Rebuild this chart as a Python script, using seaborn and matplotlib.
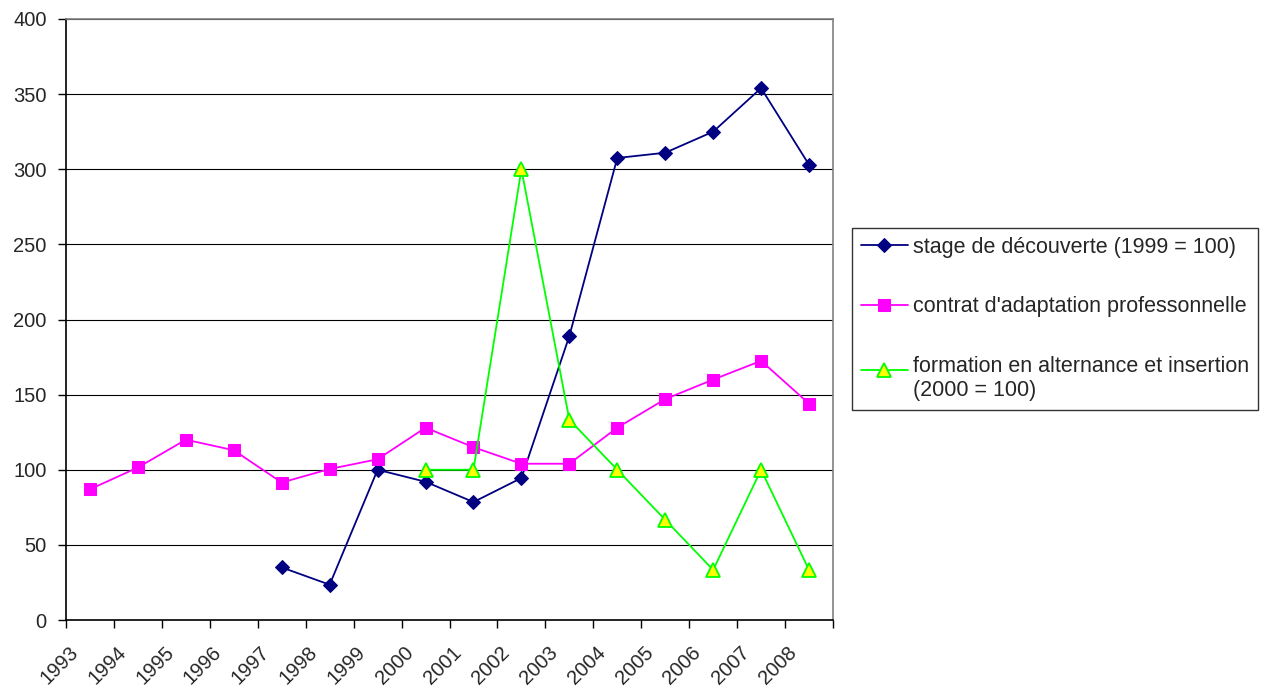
import matplotlib
matplotlib.use("Agg")
import matplotlib.pyplot as plt
import matplotlib.transforms as mtransforms
from matplotlib.legend_handler import HandlerLine2D
import seaborn as sns
import numpy as np
import pandas as pd

years = [str(y) for y in range(1993, 2009)]
stage = [np.nan, np.nan, np.nan, np.nan, 35, 23.5, 100, 92, 78.5, 94.5, 189, 307.5, 311, 325, 354, 303]
contrat = [87, 101.5, 120, 113, 91.5, 100.5, 107, 128, 115, 104, 104, 128, 147, 160, 172.5, 144]
formation = [np.nan, np.nan, np.nan, np.nan, np.nan, np.nan, np.nan, 100, 100, 300, 133.3, 100, 66.7, 33.3, 100, 33.3]

labels = ["stage de découverte (1999 = 100)",
          "contrat d'adaptation professonnelle",
          "formation en alternance et insertion\n(2000 = 100)"]

sns.set_style("white")
plt.rcParams['font.family'] = ['Liberation Sans', 'DejaVu Sans']

FS = 14.5
LFS = 15.5


class ShiftedHandler(HandlerLine2D):
    def __init__(self, dy, **kw):
        super().__init__(**kw)
        self.dy = dy

    def create_artists(self, legend, orig_handle, xdescent, ydescent, width, height, fontsize, trans):
        return super().create_artists(legend, orig_handle, xdescent, ydescent - self.dy,
                                      width, height, fontsize, trans)


fig = plt.figure(figsize=(12.73, 6.91), dpi=100)
ax = fig.add_axes([66/1273, 1-620/691, (833-66)/1273, (620-19)/691])

x = np.arange(len(years))
df = pd.DataFrame({"x": x, "stage": stage, "contrat": contrat, "formation": formation})

sns.lineplot(data=df, x="x", y="stage", ax=ax, color="#000080", marker="D",
             markersize=7.5, markeredgecolor="#000080", lw=1.3, label=labels[0])
sns.lineplot(data=df, x="x", y="contrat", ax=ax, color="#FF00FF", marker="s",
             markersize=8, markeredgecolor="#FF00FF", lw=1.3, label=labels[1])
sns.lineplot(data=df, x="x", y="formation", ax=ax, color="#00FF00", marker="^",
             markersize=9.5, markerfacecolor="#FFFF00", markeredgecolor="#00FF00",
             markeredgewidth=1.3, lw=1.3, label=labels[2])

ax.set_xlim(-0.5, len(years) - 0.5)
ax.set_ylim(0, 400)
ax.set_yticks(range(0, 401, 50))
ax.set_xlabel("")
ax.set_ylabel("")

# category boundaries as tick marks, labels at centers
ax.set_xticks(np.arange(-0.5, len(years), 1.0), minor=True)
ax.set_xticks(x)
ax.set_xticklabels(years, rotation=45, ha="right", va="center", rotation_mode="anchor")
ax.tick_params(axis="x", which="major", length=0, pad=21, labelsize=FS)
ax.tick_params(axis="x", which="minor", length=6, width=1, color="black", direction="out", bottom=True)
ax.tick_params(axis="y", length=6, width=1, color="black", direction="out", left=True, labelsize=FS, pad=8)
for lab in ax.get_xticklabels():
    lab.set_transform(lab.get_transform() + mtransforms.ScaledTranslation(-15/100, 0, fig.dpi_scale_trans))

ax.yaxis.grid(True, color="black", lw=0.8)
ax.set_axisbelow(True)
for s in ["top", "right"]:
    ax.spines[s].set_color("#808080")
    ax.spines[s].set_linewidth(1.2)
for s in ["left", "bottom"]:
    ax.spines[s].set_color("black")
    ax.spines[s].set_linewidth(1.2)

handles, labs = ax.get_legend_handles_labels()
leg = ax.legend(handles, labs, loc="upper left", bbox_to_anchor=(852/1273, 1-228/691),
                bbox_transform=fig.transFigure, frameon=True, fancybox=False,
                edgecolor="black", fontsize=LFS, handlelength=2.2, handletextpad=0.25,
                labelspacing=1.8, borderpad=0.4, borderaxespad=0,
                handler_map={handles[2]: ShiftedHandler(13)})
leg.get_frame().set_linewidth(1.0)

fig.savefig("out.png", dpi=100)
